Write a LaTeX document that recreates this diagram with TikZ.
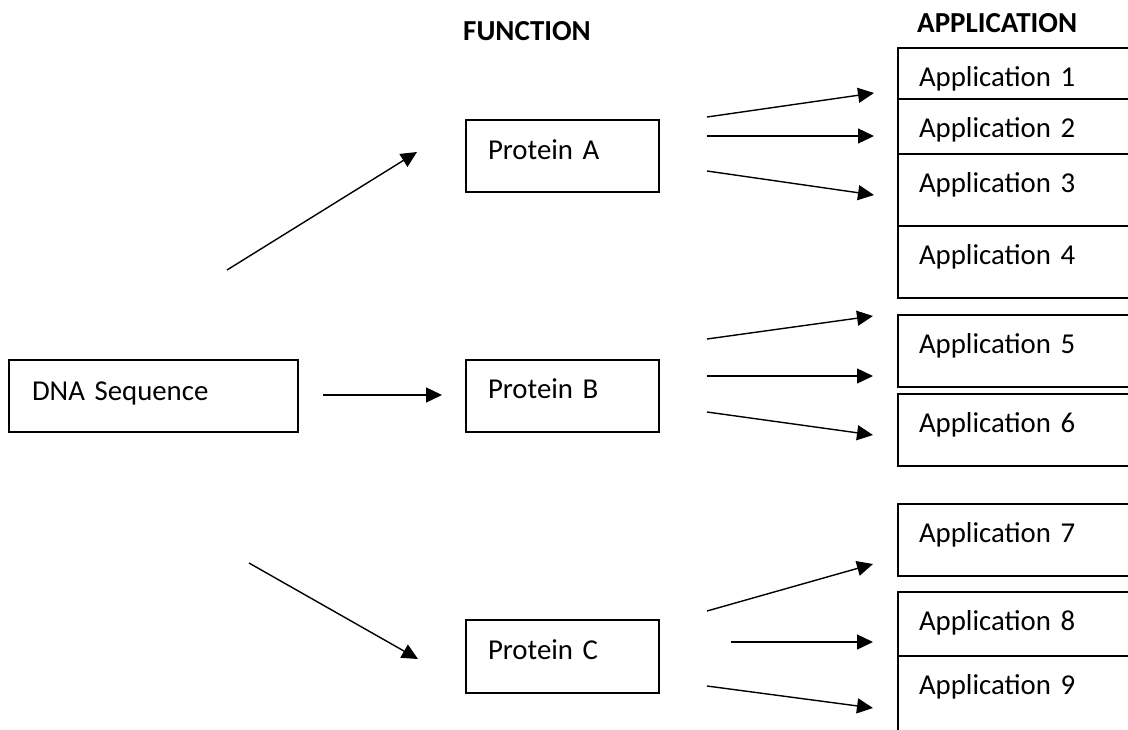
\documentclass[tikz,border=0pt]{standalone}
\usepackage{fontspec}
\setmainfont{Carlito}[WordSpace={0.85,0,0}]
\usetikzlibrary{arrows.meta}
\begin{document}
\begin{tikzpicture}[x=1pt,y=-1pt,
  lbl/.style={font=\fontsize{28.8}{34}\selectfont},
  hdr/.style={font=\fontsize{29}{34}\selectfont\bfseries, anchor=base west, inner sep=0pt},
  box/.style={lbl, draw, line width=1.3pt, anchor=north west, inner ysep=0pt, outer sep=0pt},
  pbox/.style 2 args={box, inner xsep=22pt, text width=149pt, text height=#1, text depth=#2},
  abox/.style={box, inner xsep=21pt, text width=212pt, text height=38pt, text depth=#1},
  conn/.style={line width=1.4pt, -{Triangle[length=16pt,width=15pt]}}
]
\useasboundingbox (0,0) rectangle (1128,729);
\clip (0,0) rectangle (1128,729);

% headers
\node[hdr] (hfun) at (463,40) {FUNCTION};
\node[hdr] (happ) at (917,32) {APPLICATION};

% boxes
\node[box, inner xsep=23pt, text width=243pt, text height=40pt, text depth=32pt] (dna) at (9,360) {DNA Sequence};
\node[pbox={39pt}{33pt}] (pa) at (466,120) {Protein A};
\node[pbox={38pt}{34pt}] (pb) at (466,360) {Protein B};
\node[pbox={39pt}{34pt}] (pc) at (466,620) {Protein C};

\node[abox=13pt] (a1) at (898,48) {Application 1};
\node[abox=17pt] (a2) at (898,99) {Application 2};
\node[abox=34pt] (a3) at (898,154) {Application 3};
\node[abox=34pt] (a4) at (898,226) {Application 4};
\node[abox=34pt] (a5) at (898,315) {Application 5};
\node[abox=34pt] (a6) at (898,394) {Application 6};
\node[abox=34pt] (a7) at (898,504) {Application 7};
\node[abox=26pt] (a8) at (898,592) {Application 8};
\node[abox=42pt] (a9) at (898,656) {Application 9};

% connector end points
\coordinate (dA0) at (227,270); \coordinate (dA1) at (417,152);
\coordinate (dB0) at (323,395); \coordinate (dB1) at (442,395);
\coordinate (dC0) at (249,563); \coordinate (dC1) at (418,659);

\coordinate (pa10) at (707,117); \coordinate (pa11) at (874,93);
\coordinate (pa20) at (707,136); \coordinate (pa21) at (874,136);
\coordinate (pa30) at (707,171); \coordinate (pa31) at (874,195);

\coordinate (pb10) at (707,339); \coordinate (pb11) at (873,316);
\coordinate (pb20) at (707,376); \coordinate (pb21) at (873,376);
\coordinate (pb30) at (707,412); \coordinate (pb31) at (873,435);

\coordinate (pc10) at (707,611); \coordinate (pc11) at (873,564);
\coordinate (pc20) at (731,642); \coordinate (pc21) at (873,642);
\coordinate (pc30) at (707,686); \coordinate (pc31) at (873,708);

\draw[conn] (dA0) -- (dA1);
\draw[conn] (dB0) -- (dB1);
\draw[conn] (dC0) -- (dC1);
\draw[conn] (pa10) -- (pa11);
\draw[conn] (pa20) -- (pa21);
\draw[conn] (pa30) -- (pa31);
\draw[conn] (pb10) -- (pb11);
\draw[conn] (pb20) -- (pb21);
\draw[conn] (pb30) -- (pb31);
\draw[conn] (pc10) -- (pc11);
\draw[conn] (pc20) -- (pc21);
\draw[conn] (pc30) -- (pc31);
\end{tikzpicture}
\end{document}
